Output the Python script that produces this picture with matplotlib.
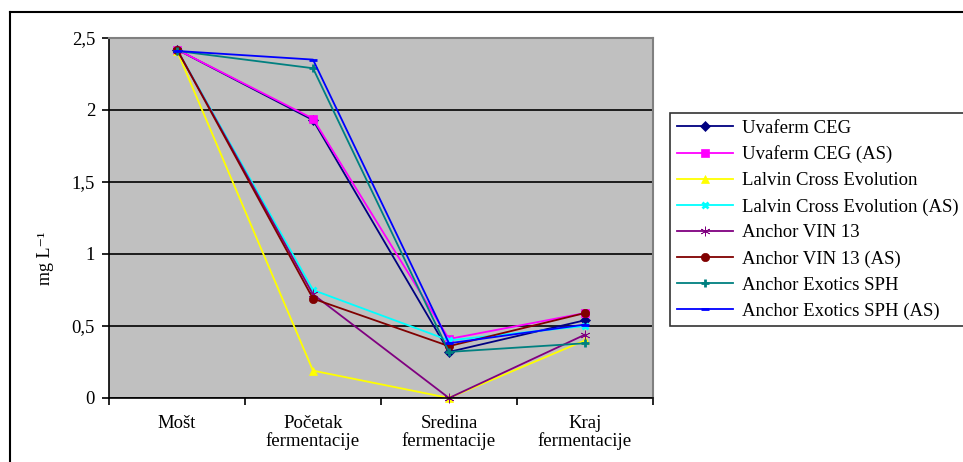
import matplotlib.pyplot as plt
from matplotlib.lines import Line2D
import numpy as np

plt.rcParams['font.family'] = ['Liberation Serif', 'DejaVu Serif']

categories = ['Mošt', 'Početak\nfermentacije', 'Sredina\nfermentacije', 'Kraj\nfermentacije']

uvaferm = [2.42, 1.93, 0.32, 0.54]
uvaferm_as = [2.42, 1.94, 0.41, 0.59]
lalvin = [2.41, 0.19, 0.00, 0.40]
lalvin_as = [2.42, 0.75, 0.40, 0.50]
vin13 = [2.42, 0.72, 0.00, 0.44]
vin13_as = [2.42, 0.69, 0.36, 0.59]
exotics = [2.41, 2.29, 0.32, 0.38]
exotics_as = [2.41, 2.35, 0.38, 0.51]

series = [
    ('Uvaferm CEG', uvaferm, '#000080', 'D', 5),
    ('Uvaferm CEG (AS)', uvaferm_as, '#ff00ff', 's', 6),
    ('Lalvin Cross Evolution', lalvin, '#ffff00', '^', 6),
    ('Lalvin Cross Evolution (AS)', lalvin_as, '#00ffff', 'x', 5),
    ('Anchor VIN 13', vin13, '#800080', (6, 2, 0), 7),
    ('Anchor VIN 13 (AS)', vin13_as, '#800000', 'o', 6),
    ('Anchor Exotics SPH', exotics, '#008080', '+', 6),
    ('Anchor Exotics SPH (AS)', exotics_as, '#0000ff', '_', 6),
]

fig = plt.figure(figsize=(9.63, 4.62), dpi=100)
ax = fig.add_axes([109 / 963, 1 - 398 / 462, 544 / 963, 360 / 462])
ax.set_facecolor('#c0c0c0')

x = np.arange(len(categories))
for name, vals, col, mk, ms in series:
    kw = dict(markeredgewidth=2) if mk in ('x', '+', '_') else dict(markeredgewidth=0.5)
    ax.plot(x, vals, color=col, lw=1.3, marker=mk, markersize=ms,
            markerfacecolor=col, markeredgecolor=col, label=name, clip_on=False, **kw)

ax.set_xlim(-0.5, 3.5)
ax.set_ylim(0, 2.5)
ax.set_yticks([0, 0.5, 1, 1.5, 2, 2.5])
ax.set_yticklabels(['0', '0,5', '1', '1,5', '2', '2,5'], fontsize=13.5)
ax.set_xticks(x)
ax.set_xticklabels(categories, fontsize=13.5, linespacing=1.05)
ax.set_xticks([-0.5, 0.5, 1.5, 2.5, 3.5], minor=True)
ax.tick_params(axis='x', which='major', length=0, pad=12)
ax.tick_params(axis='x', which='minor', length=5, width=1.2, direction='out')
ax.tick_params(axis='y', length=5, width=1.2, direction='out', pad=5)
ax.yaxis.grid(True, color='black', lw=1.2)
ax.set_axisbelow(True)
for s in ['top', 'right']:
    ax.spines[s].set_color('#808080')
    ax.spines[s].set_linewidth(1.5)
for s in ['left', 'bottom']:
    ax.spines[s].set_color('black')
    ax.spines[s].set_linewidth(1.2)

fig.text(45 / 963, 1 - 258 / 462, 'mg L⁻¹', rotation=90, fontsize=13,
         ha='center', va='center')

leg = ax.legend(loc='upper left', bbox_to_anchor=(670 / 963, 1 - 322 / 462, 310 / 963, 209 / 462),
                bbox_transform=fig.transFigure, mode='expand', fontsize=13.5,
                frameon=True, fancybox=False, edgecolor='black', borderaxespad=0,
                handlelength=3.0, handletextpad=0.5, labelspacing=0.47, borderpad=0.35)
leg.get_frame().set_linewidth(1.2)

fig.add_artist(Line2D([10 / 963, 10 / 963], [0, 1 - 12 / 462], color='black', lw=1.5))
fig.add_artist(Line2D([10 / 963, 1], [1 - 12 / 462, 1 - 12 / 462], color='black', lw=1.5))

fig.savefig('out.png', dpi=100)
